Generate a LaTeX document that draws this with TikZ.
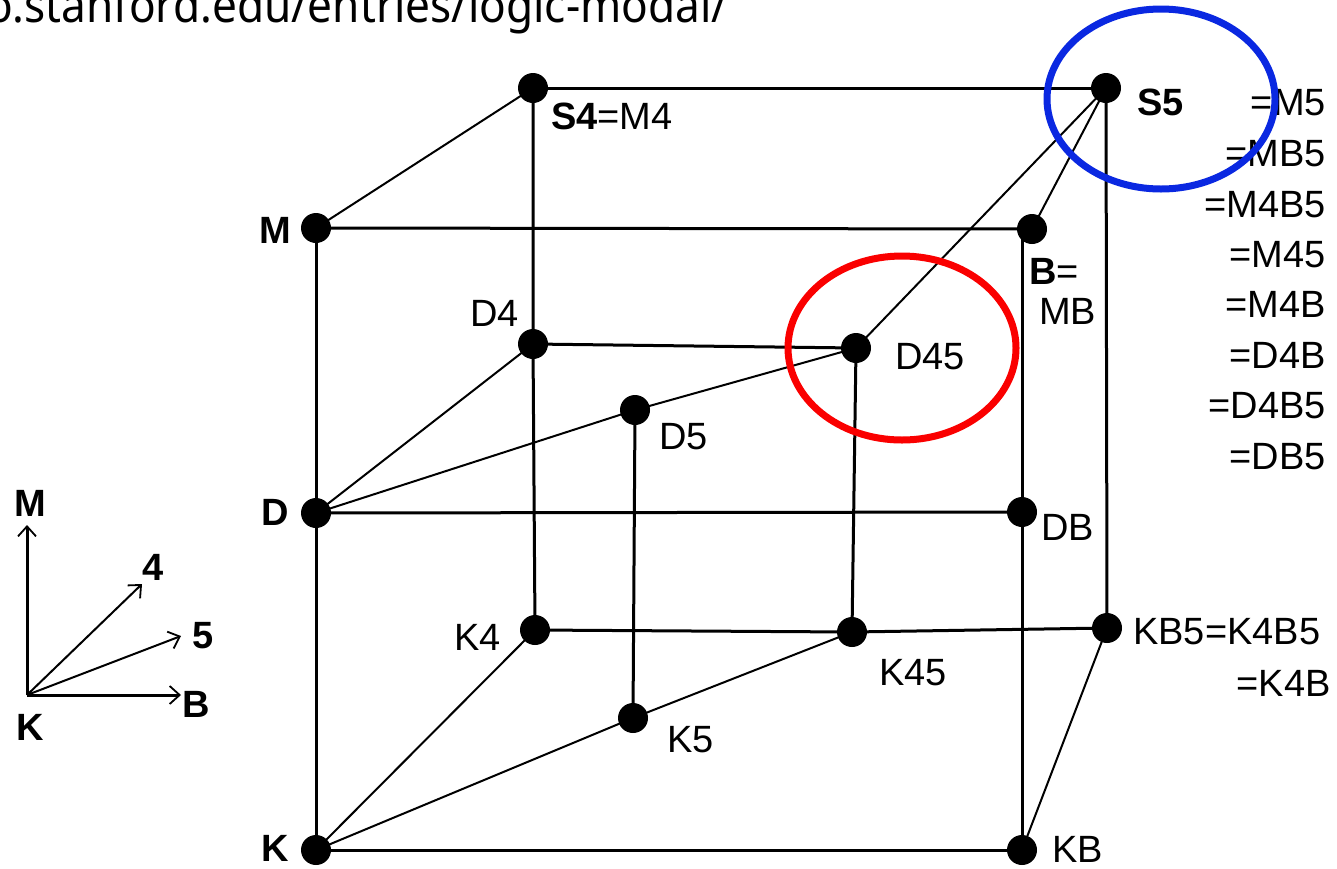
\documentclass[tikz,border=0pt]{standalone}
\usepackage{fontspec}
\setmainfont{Liberation Sans}
\newfontfamily\urlfont{Noto Sans}
\usetikzlibrary{arrows.meta}
\begin{document}
\begin{tikzpicture}[x=1pt,y=-1pt,
  dot/.style={circle,fill=black,inner sep=0pt,minimum size=30pt},
  edge/.style={line width=3pt},
  diag/.style={line width=2pt},
  lbl/.style={font=\fontsize{38}{42}\selectfont,inner sep=0pt},
  blbl/.style={font=\fontsize{38}{42}\selectfont\bfseries,inner sep=0pt},
  legarrow/.style={-{Straight Barb[length=10pt,width=18pt,line width=1.8pt]}},
  ring/.style={line width=7pt}]
\useasboundingbox (0,0) rectangle (1337,868);
\clip (0,0) rectangle (1337,868);
\definecolor{ringred}{RGB}{250,0,0}
\definecolor{ringblue}{RGB}{10,40,225}
% URL
\node[anchor=base west,inner sep=0pt,xscale=0.92,font=\urlfont\fontsize{48}{52}\selectfont] (url) at (-14,22) {o.stanford.edu/entries/logic-modal/};
% dots
\node[dot] (S4) at (533,88) {};
\node[dot] (S5) at (1106,88) {};
\node[dot] (M) at (316,228) {};
\node[dot] (B) at (1032,229) {};
\node[dot] (D4) at (533,344) {};
\node[dot] (D45) at (856,348) {};
\node[dot] (D5) at (635,410) {};
\node[dot] (D) at (316,513) {};
\node[dot] (DB) at (1022,512) {};
\node[dot] (K4) at (535,630) {};
\node[dot] (K45) at (852,632) {};
\node[dot] (KB5) at (1107,628) {};
\node[dot] (K5) at (633,718) {};
\node[dot] (K) at (316,850) {};
\node[dot] (KB) at (1022,850) {};
% straight edges
\draw[edge] (S4.center) -- (S5.center);
\draw[edge] (M.center) -- (B.center);
\draw[edge] (D4.center) -- (D45.center);
\draw[edge] (D.center) -- (DB.center);
\draw[edge] (K4.center) -- (K45.center) -- (KB5.center);
\draw[edge] (K.center) -- (KB.center);
\draw[edge] (M.center) -- (D.center) -- (K.center);
\draw[edge] (S4.center) -- (D4.center) -- (K4.center);
\draw[edge] (D5.center) -- (K5.center);
\draw[edge] (D45.center) -- (K45.center);
\draw[edge] (DB |- B) -- (DB.center) -- (KB.center);
\draw[edge] (S5.center) -- (KB5.center);
% diagonal edges
\draw[diag] (M.center) -- (S4.center);
\draw[diag] (B.center) -- (S5.center);
\draw[diag] (D45.center) -- (S5.center);
\draw[diag] (D.center) -- (D4.center);
\draw[diag] (D.center) -- (D5.center) -- (D45.center);
\draw[diag] (K.center) -- (K4.center);
\draw[diag] (K.center) -- (K5.center) -- (K45.center);
\draw[diag] (KB.center) -- (KB5.center);
% labels
\node[anchor=west,inner sep=0pt] (lS4) at (551,116) {\fontsize{38}{42}\selectfont\textbf{S4}=M4};
\node[blbl,anchor=west] (lS5) at (1137,102) {S5};
\node[blbl,anchor=east] (lM) at (291,230) {M};
\node[anchor=west,inner sep=0pt] (lB) at (1029,271) {\fontsize{38}{42}\selectfont\textbf{B}=};
\node[lbl,anchor=west] (lMB) at (1039,311) {MB};
\node[lbl,anchor=east] (lD4) at (519,313) {D4};
\node[lbl,anchor=west] (lD45) at (895,357) {D45};
\node[lbl,anchor=west] (lD5) at (659,437) {D5};
\node[blbl,anchor=east] (lD) at (289,512) {D};
\node[lbl,anchor=west] (lDB) at (1041,527) {DB};
\node[lbl,anchor=east] (lK4) at (501,637) {K4};
\node[lbl,anchor=west] (lK45) at (879,673) {K45};
\node[lbl,anchor=west] (lKB5) at (1133,632) {KB5=K4B5};
\node[lbl,anchor=east] (lK4B) at (1331,683) {=K4B};
\node[lbl,anchor=west] (lK5) at (667,740) {K5};
\node[blbl,anchor=east] (lK) at (289,848) {K};
\node[lbl,anchor=west] (lKB) at (1052,849) {KB};
% right column
\node[lbl,anchor=east] (r1) at (1326,103) {=M5};
\node[lbl,anchor=east] (r2) at (1326,154) {=MB5};
\node[lbl,anchor=east] (r3) at (1326,205) {=M4B5};
\node[lbl,anchor=east] (r4) at (1326,255) {=M45};
\node[lbl,anchor=east] (r5) at (1326,304) {=M4B};
\node[lbl,anchor=east] (r6) at (1326,355) {=D4B};
\node[lbl,anchor=east] (r7) at (1326,406) {=D4B5};
\node[lbl,anchor=east] (r8) at (1326,457) {=DB5};
% legend
\coordinate (gK) at (27,695);
\coordinate (gM) at (27,525);
\coordinate (g4) at (142,584);
\coordinate (g5) at (181,636);
\coordinate (gB) at (181,695);
\draw[edge,legarrow] (gK) -- (gM);
\draw[diag,legarrow] (gK) -- (g4);
\draw[diag,legarrow] (gK) -- (g5);
\draw[edge,legarrow] (gK) -- (gB);
\node[blbl] (tM) at (30,503) {M};
\node[blbl] (t4) at (153,567) {4};
\node[blbl] (t5) at (203,636) {5};
\node[blbl] (tB) at (196,704) {B};
\node[blbl] (tK) at (30,727) {K};
% highlight rings
\draw[ring,ringred] (902,348) ellipse [x radius=114, y radius=92];
\draw[ring,ringblue] (1161,99) ellipse [x radius=114, y radius=90];
\end{tikzpicture}
\end{document}
